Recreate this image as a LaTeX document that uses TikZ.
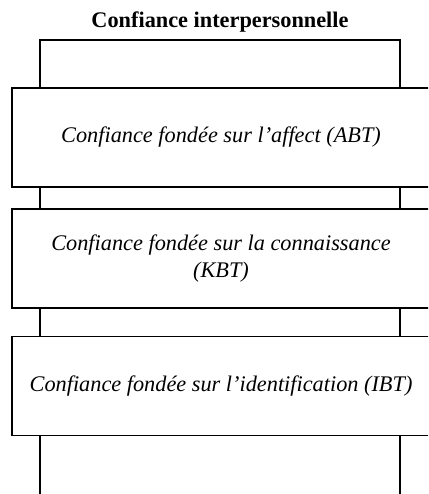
\documentclass[tikz,border=0pt]{standalone}
\usepackage{fontspec}
\setmainfont{Liberation Serif}
\tikzset{boite/.style={draw,fill=white,line width=1.5pt,minimum width=418pt,minimum height=99pt,inner sep=0pt,align=center,font=\fontsize{22.3}{27}\selectfont\itshape}}
\begin{document}
\begin{tikzpicture}[x=1pt,y=-1pt,line width=1.5pt]
			\useasboundingbox (0,0) rectangle (428,494);
			\clip (0,0) rectangle (428,494);
			\node[font=\fontsize{22.3}{26}\selectfont\bfseries] (titre) at (220,22) {Confiance interpersonnelle};
			\coordinate (bg) at (40,500);
			\coordinate (hg) at (40,40);
			\coordinate (hd) at (400,40);
			\coordinate (bd) at (400,500);
			\draw (bg) -- (hg) -- (hd) -- (bd);
			\node[boite] (abt) at (221,137.5) {Confiance fondée sur l’affect (ABT)};
			\node[boite] (kbt) at (221,258.5) {Confiance fondée sur la connaissance\\(KBT)};
			\node[boite] (ibt) at (221,386) {Confiance fondée sur l’identification (IBT)};
		\end{tikzpicture}
\end{document}
